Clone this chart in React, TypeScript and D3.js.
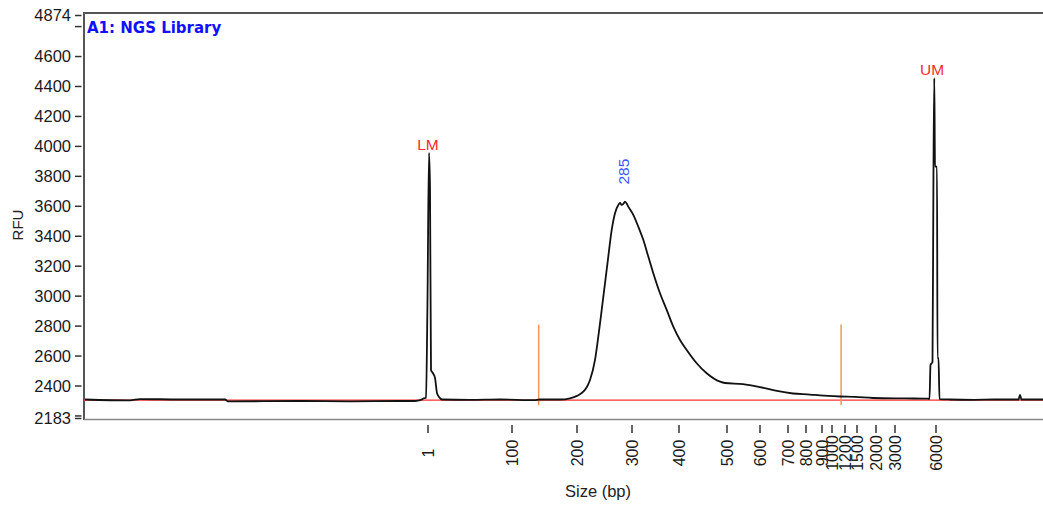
import React from 'react';
import * as d3 from 'd3';

// electropherogram, A1 sample
const title = 'A1: NGS Library';

// ladder sizes (bp) and where they sit on the migration-time axis
const ladderBp = [1, 100, 200, 300, 400, 500, 600, 700, 800, 900, 1000, 1200, 1500, 2000, 3000, 6000];
const ladderTime = [54.4, 62.8, 69.3, 74.8, 79.5, 84.3, 87.6, 90.4, 92.2, 93.8, 94.8, 96.1, 97.3, 99.2, 101.1, 105.2];

const yTicks = [2183, 2200, 2400, 2600, 2800, 3000, 3200, 3400, 3600, 3800, 4000, 4200, 4400, 4600, 4800, 4874];
const yTickLabels = ['2183', '', '2400', '2600', '2800', '3000', '3200', '3400', '3600', '3800', '4000', '4200', '4400', '4600', '', '4874'];

// trace: migration time (s) and RFU
const traceTime = [
  20.1, 24.6, 25.6, 29.6, 34.1, 34.4, 41.6, 46.6, 51.6, 53.1, 53.7, 54.0, 54.2, 54.35, 54.5, 54.6, 54.7, 54.9,
  55.1, 55.3, 55.5, 55.8, 58.6, 61.6, 65.0, 65.6, 67.6, 68.6, 69.3, 69.93, 70.3, 70.6, 71.1, 71.43, 71.77, 72.1, 72.43,
  72.77, 73.1, 73.43, 73.6, 73.77, 73.95, 74.1, 74.25, 74.43, 74.93, 75.43, 75.93, 76.43, 76.93, 77.6, 78.27,
  78.93, 79.6, 80.27, 81.27, 82.27, 83.6, 84.1, 85.9, 87.6, 89.3, 90.9, 92.6, 93.6, 95.6, 97.1, 98.9, 101.6,
  104.4, 104.55, 104.65, 104.85, 104.95, 105.03, 105.1, 105.3, 105.35, 105.45, 105.55, 106.6, 109.0, 111.0,
  113.45, 113.6, 113.75, 115.9,
];
const traceRfu = [
  2310, 2304, 2313, 2310, 2310, 2297, 2300, 2297, 2300, 2300, 2307, 2318, 2322, 2975, 3957, 3730, 2507, 2485,
  2454, 2353, 2327, 2310, 2307, 2310, 2306, 2310, 2310, 2318, 2334, 2362, 2395, 2440, 2574, 2729, 2908, 3086, 3264,
  3442, 3554, 3609, 3622, 3609, 3618, 3631, 3620, 3598, 3543, 3464, 3376, 3264, 3153, 3019, 2908,
  2796, 2707, 2641, 2552, 2485, 2429, 2420, 2413, 2393, 2367, 2350, 2343, 2337, 2330, 2327, 2320, 2317,
  2316, 2313, 2540, 2560, 3865, 4456, 3865, 3865, 2587, 2587, 2313, 2310, 2308, 2310,
  2310, 2340, 2310, 2310,
];

const baselineRfu = 2306;
const regionBp = [141, 1140];
const regionRfu = [2272, 2810];

const markerLabels = ['LM', 'UM'];
const markerTime = [54.4, 104.8];
const markerRfu = [3957, 4456];
const peakBp = 285;
const peakRfu = 3631;

const W = 1043;
const H = 506;

export default function App() {
  const x = d3.scaleLinear().domain([20, 115.9]).range([84, 1043]);
  const y = d3.scaleLinear().domain([2183, 4874]).range([418.5, 15.5]);
  const bpToTime = d3.scaleLinear().domain(ladderBp).range(ladderTime);

  const line = d3
    .line<number>()
    .x((_, i) => x(traceTime[i]))
    .y((d) => y(d))
    .curve(d3.curveMonotoneX);

  const font = '"Liberation Sans", Arial, sans-serif';

  return (
    <svg width={W} height={H} style={{ position: 'absolute', left: 0, top: 0, background: '#fff' }}>
      {/* frame */}
      <line x1={84} x2={W} y1={13} y2={13} stroke="#555" strokeWidth={2} />
      <line x1={84} x2={84} y1={12} y2={420} stroke="#555" strokeWidth={2} />
      <line x1={84} x2={W} y1={419.5} y2={419.5} stroke="#888" strokeWidth={1.5} />

      {/* y axis */}
      {yTicks.map((t, i) => (
        <g key={t}>
          <line x1={75} x2={81.5} y1={y(t)} y2={y(t)} stroke="#333" strokeWidth={1.5} />
          {yTickLabels[i] && (
            <text x={71} y={y(t)} dy="0.35em" textAnchor="end" fontFamily={font} fontSize={16.5} fill="#1a1a1a">
              {yTickLabels[i]}
            </text>
          )}
        </g>
      ))}
      <text
        transform={`translate(18,225) rotate(-90)`}
        dy="0.35em"
        textAnchor="middle"
        fontFamily={font}
        fontSize={15}
        fill="#222"
      >
        RFU
      </text>

      {/* x axis */}
      {ladderBp.map((bp) => {
        const px = x(bpToTime(bp));
        return (
          <g key={bp}>
            <line x1={px} x2={px} y1={425} y2={433} stroke="#333" strokeWidth={1.5} />
            <text
              transform={`translate(${px},453) rotate(-90)`}
              dy="0.35em"
              textAnchor="middle"
              fontFamily={font}
              fontSize={16}
              fill="#1a1a1a"
            >
              {bp}
            </text>
          </g>
        );
      })}
      <text x={598} y={497} textAnchor="middle" fontFamily={font} fontSize={16.5} fill="#222">
        Size (bp)
      </text>

      {/* baseline and region markers */}
      <line x1={x(20)} x2={W} y1={y(baselineRfu)} y2={y(baselineRfu)} stroke="#ff3030" strokeWidth={1.3} />
      {regionBp.map((bp) => (
        <line
          key={bp}
          x1={x(bpToTime(bp))}
          x2={x(bpToTime(bp))}
          y1={y(regionRfu[0])}
          y2={y(regionRfu[1])}
          stroke="#f7955a"
          strokeWidth={1.5}
        />
      ))}

      {/* trace */}
      <path d={line(traceRfu) || ''} fill="none" stroke="#111" strokeWidth={1.8} strokeLinejoin="round" />

      {/* labels */}
      {markerLabels.map((m, i) => (
        <text
          key={m}
          x={x(markerTime[i])}
          y={y(markerRfu[i]) - 3}
          textAnchor="middle"
          fontFamily={font}
          fontSize={15.5}
          fill="#ff2a2a"
        >
          {m}
        </text>
      ))}
      <text
        transform={`translate(${x(bpToTime(peakBp))},${y(peakRfu) - 30}) rotate(-90)`}
        dy="0.35em"
        textAnchor="middle"
        fontFamily={font}
        fontSize={15.5}
        fill="#3d55ff"
      >
        {peakBp}
      </text>
      <text x={87} y={33} fontFamily='"DejaVu Sans", Verdana, sans-serif' fontWeight="bold" fontSize={15} fill="#1010ff">
        {title}
      </text>
    </svg>
  );
}
